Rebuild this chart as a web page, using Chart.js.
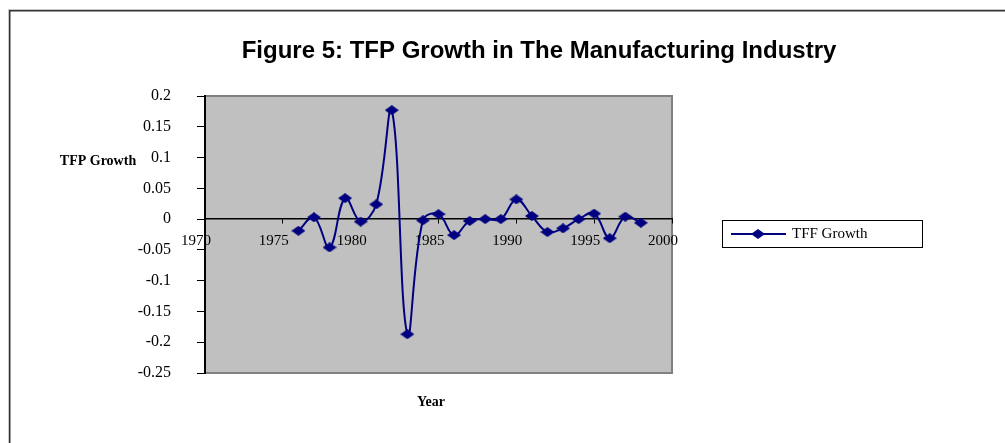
<!DOCTYPE html>
<html>
<head>
<meta charset="utf-8">
<script src="https://cdn.jsdelivr.net/npm/chart.js@4"></script>
<style>
  html, body { margin: 0; padding: 0; background: #fff; }
  #wrap { position: relative; width: 1005px; height: 443px; }
</style>
</head>
<body>
<div id="wrap"><canvas id="tfp_chart"></canvas></div>
<script>
// series data
const years = [1976, 1977, 1978, 1979, 1980, 1981, 1982, 1983, 1984, 1985, 1986, 1987,
               1988, 1989, 1990, 1991, 1992, 1993, 1994, 1995, 1996, 1997, 1998];
const tfpGrowth = [-0.019, 0.003, -0.046, 0.034, -0.004, 0.024, 0.177, -0.187, -0.002, 0.008, -0.026, -0.003,
                   0.000, 0.000, 0.032, 0.005, -0.021, -0.015, 0.000, 0.009, -0.031, 0.004, -0.006];
// axis ticks
const xTicks = [1970, 1975, 1980, 1985, 1990, 1995, 2000];
const yTicks = [0.2, 0.15, 0.1, 0.05, 0, -0.05, -0.1, -0.15, -0.2, -0.25];
const seriesName = 'TFF Growth';
const chartTitle = 'Figure 5: TFP Growth in The Manufacturing Industry';
const yTitle = 'TFP Growth';
const xTitle = 'Year';

const NAVY = '#000080';
const SERIF = '"Liberation Serif", "Times New Roman", serif';

// excel style flat diamond marker
const diamond = document.createElement('canvas');
diamond.width = 14;
diamond.height = 10;
(function () {
    const c = diamond.getContext('2d');
    c.fillStyle = NAVY;
    c.beginPath();
    c.moveTo(0, 5); c.lineTo(7, 0); c.lineTo(14, 5); c.lineTo(7, 10);
    c.closePath();
    c.fill();
})();

// background, frame, plot box and the loose texts
const excelLook = {
    id: 'excelLook',
    beforeDraw(chart) {
        const {ctx, chartArea: a} = chart;
        ctx.save();
        ctx.fillStyle = '#fff';
        ctx.fillRect(0, 0, chart.width, chart.height);
        // outer frame (left + top visible)
        ctx.fillStyle = '#c8c8c8';
        ctx.fillRect(9, 9, chart.width, 1);
        ctx.fillRect(8, 9, 1, chart.height);
        ctx.fillStyle = '#333';
        ctx.fillRect(9, 10, chart.width, 1.5);
        ctx.fillRect(9, 10, 1.5, chart.height);
        // plot area
        ctx.fillStyle = '#c0c0c0';
        ctx.fillRect(a.left, a.top, a.right - a.left, a.bottom - a.top);
        ctx.strokeStyle = '#808080';
        ctx.lineWidth = 2;
        ctx.strokeRect(a.left, a.top, a.right - a.left, a.bottom - a.top);
        ctx.restore();
    },
    afterDraw(chart) {
        const ctx = chart.ctx;
        ctx.save();
        ctx.fillStyle = '#000';
        ctx.textBaseline = 'middle';
        ctx.textAlign = 'center';
        ctx.font = 'bold 24px "Liberation Sans", Arial, sans-serif';
        ctx.fillText(chartTitle, 539, 51);
        ctx.font = 'bold 14px ' + SERIF;
        ctx.fillText(yTitle, 98, 161);
        ctx.fillText(xTitle, 431, 402);
        // legend box
        ctx.fillStyle = '#fff';
        ctx.fillRect(722, 220, 201, 28);
        ctx.strokeStyle = '#000';
        ctx.lineWidth = 1;
        ctx.strokeRect(722.5, 220.5, 200, 27);
        ctx.strokeStyle = NAVY;
        ctx.lineWidth = 2;
        ctx.beginPath();
        ctx.moveTo(731, 234);
        ctx.lineTo(786, 234);
        ctx.stroke();
        ctx.drawImage(diamond, 758 - 7, 234 - 5);
        ctx.fillStyle = '#000';
        ctx.textAlign = 'left';
        ctx.font = '15px ' + SERIF;
        ctx.fillText(chart.data.datasets[0].label, 792, 234);
        ctx.restore();
    }
};

new Chart(document.getElementById('tfp_chart'), {
    type: 'line',
    data: {
        datasets: [{
            label: seriesName,
            data: years.map((y, i) => ({x: y, y: tfpGrowth[i]})),
            borderColor: NAVY,
            backgroundColor: NAVY,
            borderWidth: 2,
            tension: 0.4,
            pointStyle: diamond,
            pointRadius: 7,
            fill: false
        }]
    },
    options: {
        responsive: true,
        maintainAspectRatio: false,
        devicePixelRatio: 1,
        animation: false,
        layout: { padding: { left: 0, top: 96, right: 333, bottom: 70 } },
        plugins: {
            legend: { display: false },
            title: { display: false },
            tooltip: { enabled: false }
        },
        scales: {
            x: {
                type: 'linear',
                min: 1970,
                max: 2000,
                position: { y: 0 },
                afterBuildTicks: s => { s.ticks = xTicks.map(v => ({value: v})); },
                grid: { drawOnChartArea: false, tickLength: 4, tickColor: '#000', tickWidth: 1 },
                border: { color: '#000', width: 1.5 },
                ticks: {
                    color: '#000',
                    font: { family: SERIF, size: 15 },
                    padding: 9,
                    labelOffset: -9,
                    maxRotation: 0,
                    autoSkip: false,
                    callback: v => String(v)
                }
            },
            y: {
                min: -0.25,
                max: 0.2,
                position: 'left',
                afterBuildTicks: s => { s.ticks = yTicks.map(v => ({value: v})); },
                afterFit: s => { s.width = 205; },
                grid: { drawOnChartArea: false, tickLength: 8, tickColor: '#000', tickWidth: 1 },
                border: { color: '#000', width: 2 },
                ticks: {
                    color: '#000',
                    font: { family: SERIF, size: 16 },
                    padding: 26,
                    autoSkip: false,
                    callback: v => String(v)
                }
            }
        }
    },
    plugins: [excelLook]
});
</script>
</body>
</html>
